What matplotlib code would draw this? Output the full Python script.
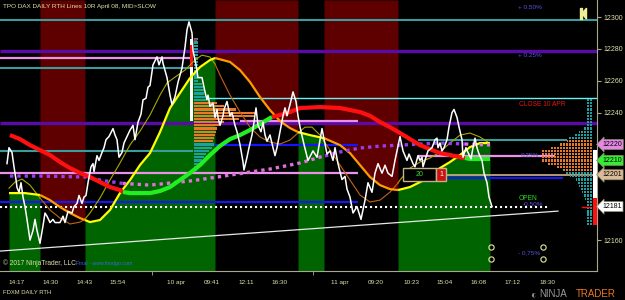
import numpy as np
import matplotlib.pyplot as plt
from matplotlib.patches import Rectangle, Polygon

plt.rcParams['font.family'] = ['Liberation Sans', 'DejaVu Sans']

# ---- data (x = bar position, y = price) ----
px = [7, 9, 12, 14, 16, 17, 19, 21, 23, 25, 27, 30, 33, 35, 37, 40, 43, 45, 47, 50,
      53, 55, 60, 63, 65, 68, 72, 74, 77, 79, 82, 84, 86, 88, 91, 93, 94, 97, 99, 102,
      104, 106, 109, 113, 115, 117, 119, 122, 124, 127, 130, 133, 135, 138, 141, 143, 146, 148, 150, 153,
      157, 159, 162, 163, 167, 170, 172, 175, 178, 182, 185, 187, 189, 192, 193, 196, 198, 202, 205, 207,
      208, 210, 213, 215, 217, 218, 220, 223, 224, 227, 230, 232, 235, 237, 240, 243, 244, 247, 249, 252,
      254, 256, 258, 261, 263, 265, 267, 270, 273, 275, 277, 280, 283, 285, 287, 290, 293, 296, 298, 300,
      304, 308, 313, 317, 322, 327, 330, 333, 335, 338, 342, 345, 347, 350, 353, 357, 361, 365, 368, 372,
      375, 378, 382, 385, 388, 392, 395, 400, 403, 407, 409, 413, 415, 418, 420, 422, 423, 425, 428, 432,
      435, 437, 438, 440, 442, 444, 447, 449, 452, 454, 457, 459, 462, 463, 466, 468, 471, 473, 475, 477,
      479, 482, 484, 487, 489, 492]
price = [12208, 12218, 12215, 12206, 12198, 12193, 12190, 12196, 12187, 12181, 12173, 12160, 12166, 12173, 12166, 12158, 12169, 12177, 12175, 12171,
         12173, 12171, 12171, 12175, 12171, 12178, 12177, 12181, 12183, 12188, 12183, 12187, 12188, 12196, 12206, 12208, 12203, 12213, 12210, 12215,
         12218, 12223, 12225, 12230, 12226, 12223, 12212, 12215, 12221, 12225, 12229, 12232, 12223, 12234, 12239, 12248, 12249, 12256, 12257, 12270,
         12275, 12270, 12275, 12271, 12262, 12251, 12245, 12250, 12259, 12268, 12281, 12292, 12297, 12290, 12279, 12270, 12262, 12262, 12253, 12248,
         12251, 12244, 12246, 12237, 12242, 12237, 12232, 12238, 12242, 12247, 12238, 12240, 12232, 12228, 12220, 12209, 12204, 12212, 12218, 12226,
         12234, 12243, 12232, 12228, 12234, 12226, 12222, 12226, 12218, 12213, 12218, 12228, 12238, 12243, 12238, 12245, 12253, 12247, 12238, 12231,
         12220, 12210, 12216, 12212, 12230, 12214, 12216, 12210, 12218, 12208, 12198, 12200, 12192, 12187, 12177, 12181, 12173, 12185, 12196, 12190,
         12202, 12208, 12202, 12207, 12202, 12200, 12210, 12225, 12216, 12210, 12214, 12208, 12206, 12213, 12210, 12212, 12206, 12210, 12216, 12218,
         12223, 12224, 12218, 12221, 12216, 12218, 12223, 12231, 12240, 12242, 12237, 12231, 12223, 12212, 12218, 12215, 12211, 12218, 12224, 12218,
         12214, 12210, 12202, 12196, 12187, 12181]

mid_x = [9, 25, 40, 50, 60, 70, 80, 85, 90, 100, 110, 120, 130, 140, 150, 160, 170, 180, 190, 200,
         210, 215, 230, 240, 250, 260, 270, 280, 290, 298, 310, 324, 340, 350, 360, 370, 380, 390, 398, 410,
         420, 430, 440, 450, 460, 470, 480, 490]
mid_p = [12189.5, 12189.5, 12188.3, 12185.1, 12180.7, 12177.0, 12173.8, 12172.6, 12171.3, 12172.6,
         12178.9, 12189.5, 12197.7, 12207.1, 12214.6, 12227.8, 12242.9, 12252.3, 12261.7, 12268.6,
         12273.0, 12274.3, 12271.8, 12266.7, 12259.2, 12249.8, 12241.6, 12234.7, 12230.3, 12227.8,
         12225.9, 12224.0, 12219.6, 12214.6, 12207.1, 12199.6, 12194.5, 12192.0, 12191.4, 12193.3,
         12196.4, 12199.6, 12205.2, 12209.0, 12213.4, 12218.4, 12220.9, 12220.9]

slow_x = [10, 20, 30, 40, 50, 60, 70, 80, 90, 100, 110, 120, 123, 130, 140, 150, 160, 170, 180, 190,
          200, 210, 220, 230, 240, 250, 260, 270, 272, 280, 290, 300, 320, 340, 360, 370, 380, 390, 400, 410,
          420, 430, 440, 450, 460, 465, 470, 490]
slow_p = [12225.9, 12223.4, 12219.6, 12216.5, 12213.4, 12209.0, 12205.2, 12202.1, 12199.6, 12196.4,
          12193.3, 12191.4, 12190.2, 12189.5, 12189.5, 12189.5, 12190.8, 12193.3, 12197.7, 12202.1,
          12207.1, 12213.4, 12219.1, 12223.4, 12225.9, 12229.1, 12232.8, 12236.6, 12237.2, 12238.5,
          12240.4, 12242.9, 12243.5, 12242.9, 12240.4, 12238.0, 12234.1, 12230.9, 12227.2, 12223.4,
          12219.6, 12217.1, 12214.6, 12213.4, 12212.1, 12211.5, 12210.9, 12210.9]

dot_x = [10, 40, 85, 100, 120, 123, 150, 170, 190, 210, 230, 250, 270, 290, 300, 310, 320, 325, 340, 360,
         380, 400, 420, 440, 465, 490]
dot_p = [12200.2, 12200.2, 12199.6, 12197.7, 12195.8, 12195.6, 12194.5, 12195.8, 12197.1, 12198.9,
         12200.8, 12202.7, 12204.6, 12207.1, 12208.4, 12210.2, 12212.1, 12212.8, 12215.3, 12217.8,
         12219.0, 12219.6, 12220.3, 12220.9, 12220.3, 12219.7]

fast_x = [9, 15, 22, 30, 40, 50, 60, 70, 80, 85, 90, 100, 110, 120, 130, 140, 150, 160, 167, 175,
          185, 195, 202, 210, 215, 220, 230, 240, 250, 260, 270, 280, 290, 298, 305, 312, 320, 324, 330, 340,
          350, 360, 370, 380, 390, 398, 400, 410, 420, 430, 440, 450, 460, 470, 480, 488]
fast_p = [12192.6, 12196.4, 12198.3, 12194.5, 12186.4, 12178.9, 12173.8, 12170.1, 12171.3, 12173.2,
          12177.0, 12186.4, 12197.7, 12208.4, 12219.7, 12228.4, 12238.5, 12251.0, 12258.6, 12262.3,
          12266.7, 12273.0, 12276.1, 12274.9, 12270.5, 12263.6, 12251.0, 12240.4, 12230.9, 12224.7,
          12221.5, 12220.3, 12222.8, 12227.2, 12230.9, 12230.9, 12225.9, 12222.2, 12216.5, 12207.1,
          12197.7, 12188.3, 12183.9, 12185.1, 12190.1, 12195.8, 12197.7, 12205.2, 12209.0, 12211.5,
          12215.3, 12220.9, 12225.9, 12227.2, 12224.7, 12221.5]

green_spans = [(9, 40), (85, 215), (298, 324), (398, 490)]
red_spans = [(40, 85), (215, 298), (324, 398)]
slow_spans = [(10, 123, 'r'), (123, 272, 'g'), (272, 465, 'r'), (465, 490, 'g')]
dot_spans = [(10, 123, 'p'), (123, 325, 'k'), (325, 465, 'p'), (465, 490, 'k')]

# horizontal levels: price, start, end, kind
levels = [(12298.1, 0, 597, 'teal'), (12278.7, 0, 597, 'purple'), (12274.3, 0, 190, 'pink'),
          (12268.0, 0, 190, 'teal'), (12249.2, 207, 597, 'cyan'), (12233.5, 0, 597, 'purple'),
          (12235.0, 240, 358, 'pink'), (12219.7, 215, 358, 'blue'), (12222.8, 418, 567, 'teal'),
          (12215.9, 0, 193, 'teal'), (12212.8, 418, 555, 'pink'), (12202.1, 0, 358, 'pink'),
          (12201.0, 446, 597, 'tan'), (12199.0, 446, 563, 'blue'), (12183.9, 0, 358, 'blue')]
open_price = 12181
trend_x = [0, 558]
trend_p = [12153.1, 12178.2]

mid_prof_levels = list(range(12286, 12202, -2))
mid_prof_w = [4] * 14 + [8, 9, 10, 10, 11, 12] + [23, 30, 42, 62, 60, 45, 30, 25, 23, 22, 21, 20, 19] + \
             [20, 18, 15, 12, 10, 8, 6, 4, 3]
mid_prof_k = 't' * 20 + 'o' * 13 + 't' * 9
right_prof_levels = list(range(12248, 12168, -2))
right_prof_w = [5] * 7 + [5, 6, 8, 13, 18, 23] + [25, 33, 41, 50, 50, 50, 50, 45, 35, 30] + \
               [27, 22, 16, 14, 13, 11, 10, 8, 7] + [5] * 8
right_prof_k = 't' * 13 + 'o' * 10 + 't' * 17

tick_pos = [17, 51, 85, 118, 176, 212, 246, 280, 340, 376, 411, 445, 479, 512, 547]
tick_lab = ['14:17', '14:30', '14:43', '15:54', '10 apr', '09:41', '12:11', '16:30',
            '11 apr', '09:20', '10:23', '15:04', '16:08', '17:12', '18:30']
y_ticks = [12300, 12280, 12260, 12240, 12160]
tags = [(12220, '12220', '#e488e4'), (12210, '12210', '#33ee33'), (12201, '12201', '#dcbc98'),
        (12181, '12181', '#ffffff')]
circ_x = [491, 491, 543, 543]
circ_p = [12155.6, 12148.1, 12155.6, 12148.1]

# ---- drawing ----
PALE = '#e0e0a8'
cols = {'teal': '#3a9c9c', 'purple': '#5a0aa6', 'pink': '#ea92ea', 'cyan': '#66f2f2',
        'blue': '#1414ff', 'tan': '#d0b08c'}
lws = {'teal': 1.5, 'purple': 2.4, 'pink': 1.6, 'cyan': 1.0, 'blue': 1.5, 'tan': 1.2}
ORANGE = '#e8782a'
TEAL = '#1fa0a0'

y0, y1 = 12140.6, 12310.7
fig = plt.figure(figsize=(6.25, 3.0), dpi=100, facecolor='black')
ax = fig.add_axes([0, 29 / 300, 597 / 625, 271 / 300], facecolor='black')
ax.set_xlim(0, 597)
ax.set_ylim(y0, y1)

mx, mp = np.array(mid_x), np.array(mid_p)
for a, b in green_spans:
    m = (mx >= a) & (mx <= b)
    ax.fill_between(mx[m], mp[m], y0, color='#006400', lw=0, zorder=1)
for a, b in red_spans:
    m = (mx >= a) & (mx <= b)
    ax.fill_between(mx[m], mp[m], y1, color='#5e0000', lw=0, zorder=1)

for p, a, b, k in levels:
    ax.plot([a, b], [p, p], color=cols[k], lw=lws[k], zorder=2, solid_capstyle='butt')
ax.plot([0, 550], [open_price, open_price], color='white', lw=1.5, dashes=(1, 1.4), zorder=2)
ax.plot(trend_x, trend_p, color='#e8e8e8', lw=0.9, zorder=2)

# TPO profiles
for p, w, k in zip(mid_prof_levels, mid_prof_w, mid_prof_k):
    segs = [(194 + s, min(2.5, w - s)) for s in np.arange(0, w, 3)]
    ax.broken_barh(segs, (p - 0.7, 1.4), facecolors=ORANGE if k == 'o' else TEAL, zorder=3)
for p, w, k in zip(right_prof_levels, right_prof_w, right_prof_k):
    segs = [(592 - s - min(2.5, w - s), min(2.5, w - s)) for s in np.arange(0, w, 3)]
    ax.broken_barh(segs, (p - 0.7, 1.4), facecolors=ORANGE if k == 'o' else TEAL, zorder=3)
ax.bar(191.5, 12286.2 - 12234.7, width=3.4, bottom=12234.7, color='white', zorder=4)
ax.bar(191.5, 12282.4 - 12268.6, width=3.4, bottom=12268.6, color='#ff1010', zorder=4)
ax.bar(195, 1.5, width=3, bottom=12285, color='#ff1010', zorder=4)
ax.bar(595, 12216.5 - 12186.4, width=3.6, bottom=12186.4, color='white', zorder=4)
ax.bar(595, 12186.4 - 12169.5, width=3.6, bottom=12169.5, color='#ff1010', zorder=4)
ax.plot([582, 590], [12180.7, 12180.7], color='#ff1010', lw=1, zorder=4)

# moving averages
fx, fp = np.array(fast_x), np.array(fast_p)
for spans, c in ((green_spans, '#a8a800'), (red_spans, '#c46414')):
    for a, b in spans:
        m = (fx >= a) & (fx <= b)
        ax.plot(fx[m], fp[m], color=c, lw=0.8, zorder=5)
for spans, c in ((green_spans, '#ffff00'), (red_spans, '#ff9a00')):
    for a, b in spans:
        m = (mx >= a) & (mx <= b)
        ax.plot(mx[m], mp[m], color=c, lw=1.6, zorder=5, solid_capstyle='butt')
dx, dp = np.array(dot_x), np.array(dot_p)
for a, b, k in dot_spans:
    m = (dx >= a) & (dx <= b)
    ax.plot(dx[m], dp[m], color='#9a3cf0' if k == 'p' else '#e070e0', lw=2.4,
            dashes=(1, 1.2), zorder=6)
sx, sp = np.array(slow_x), np.array(slow_p)
for a, b, k in slow_spans:
    m = (sx >= a) & (sx <= b)
    ax.plot(sx[m], sp[m], color='#ff1010' if k == 'r' else '#22ee22', lw=3.0, zorder=6,
            solid_capstyle='butt')

ax.plot(px, price, color='white', lw=1.1, zorder=7)

# trade box
ax.add_patch(Rectangle((403, 12197.0), 33, 8.2, fc='black', ec='#c8b088', lw=1, zorder=8))
ax.add_patch(Rectangle((436, 12197.0), 10, 8.2, fc='#cc1111', ec='#c8b088', lw=1, zorder=8))
ax.text(419.5, 12201.1, '20', color='#33dd33', fontsize=5, ha='center', va='center', zorder=9)
ax.text(441, 12201.1, '1', color='white', fontsize=5, ha='center', va='center', zorder=9)

ax.plot(circ_x, circ_p, 'o', ms=3.8, mfc='none', mec='#e6e6a0', mew=0.8, ls='none', zorder=8)

# labels inside plot
ax.text(518, 12306.3, '+ 0,50%', color='#5656e0', fontsize=4.6, va='center')
ax.text(518, 12276.1, '+ 0.25%', color='#5656e0', fontsize=4.6, va='center')
ax.text(519, 12244.8, 'CLOSE 10 APR', color='#ee1111', fontsize=4.8, va='center')
ax.text(521, 12213.4, '0.25%', color='#6060d0', fontsize=4.6, va='center', zorder=8)
ax.text(519, 12186.0, 'OPEN', color='#22dd22', fontsize=4.8, va='center', zorder=8)
ax.text(523, 12182.6, '-0.50%', color='#5656e0', fontsize=4.6, va='center', zorder=8)
ax.text(518, 12151.8, '- 0,75%', color='#5656e0', fontsize=4.6, va='center', zorder=8)
ax.text(3, 12306.8, 'TPO DAX DAILY RTH Lines 10R April 08, MID>SLOW', color=PALE, fontsize=4.6,
        va='center')
ax.text(3, 12145.6, '\u00a9 2017 NinjaTrader, LLC', color=PALE, fontsize=4.8, va='center', zorder=9)
ax.text(76, 12145.3, 'Final - www.finalgo.com', color='#3a6ae0', fontsize=3.8, va='center', zorder=9)

# top-right marker
ax.add_patch(Rectangle((580, 12298.7), 1.8, 6.9, color='#eeee99', zorder=9))
ax.add_patch(Polygon([[586.5, 12305.6], [582, 12302.2], [586.5, 12298.7]], closed=True,
                     color='#eeee99', zorder=9))

# axes styling
for s in ('left', 'top'):
    ax.spines[s].set_visible(False)
for s in ('bottom', 'right'):
    ax.spines[s].set_color('#a8a890')
    ax.spines[s].set_linewidth(0.8)
ax.set_xticks(tick_pos)
ax.set_xticklabels(tick_lab)
ax.set_xticks([152, 313], minor=True)
ax.tick_params(axis='x', which='major', length=0, pad=6.5, colors=PALE, labelsize=4.6)
ax.tick_params(axis='x', which='minor', length=3, color='#a8a890')
ax.yaxis.tick_right()
ax.set_yticks(y_ticks)
ax.set_yticklabels([str(v) for v in y_ticks])
ax.tick_params(axis='y', length=3, pad=2, colors=PALE, labelsize=5, color='#a8a890')

for p, t, c in tags:
    ax.text(602, p, t, color='black', fontsize=5, ha='left', va='center', clip_on=False, zorder=10,
            bbox=dict(boxstyle='larrow,pad=0.22', fc=c, ec='#888866', lw=0.5))

fig.text(3 / 625, 1 - 293 / 300, 'FDXM DAILY RTH', color=PALE, fontsize=4.2, va='center')
fig.text(530 / 625, 1 - 294 / 300, '\u25d0', color='#8a8a8a', fontsize=7, va='center')
fig.text(539 / 625, 1 - 294 / 300, 'NINJA', color='#9a9a9a', fontsize=7, va='center')
fig.text(576 / 625, 1 - 294 / 300, 'TRADER', color='#ee7722', fontsize=7, va='center')

fig.savefig('out.png', dpi=100, facecolor='black')
